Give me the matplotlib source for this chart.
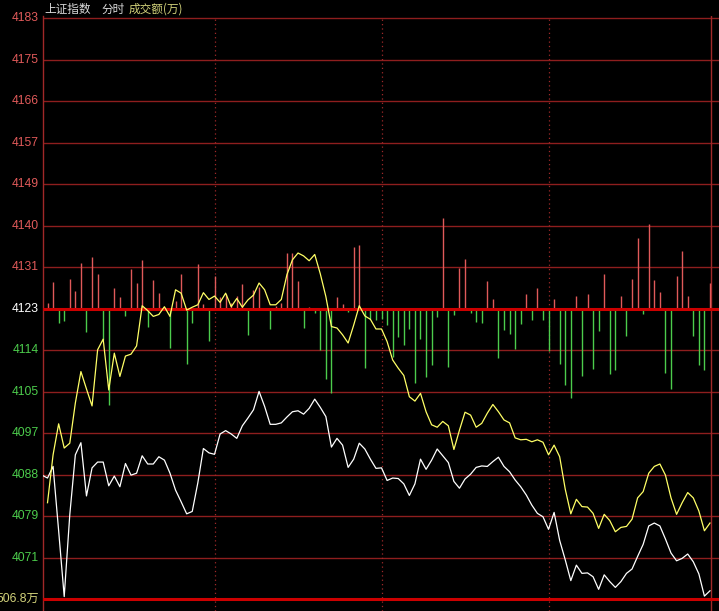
import numpy as np
import matplotlib
matplotlib.use('Agg')
import matplotlib.pyplot as plt
import matplotlib.transforms as mtransforms

plt.rcParams['font.family'] = ['Liberation Sans', 'Noto Sans CJK SC', 'DejaVu Sans']

# 昨收 / 纵轴刻度
base = 4123
tick_labels = ['4183', '4175', '4166', '4157', '4149', '4140', '4131',
               '4123', '4114', '4105', '4097', '4088', '4079', '4071']
bottom_label = '506.8万'

# 白线 (k = -1 .. 119)
white_line = [
    4088.6,
    4088.0, 4090.4, 4077.1, 4063.5, 4080.4, 4092.8, 4095.3, 4084.3, 4090.1, 4091.3,
    4091.3, 4086.4, 4088.4, 4086.2, 4091.0, 4088.6, 4089.0, 4092.6, 4090.9, 4090.9,
    4092.4, 4091.7, 4089.0, 4085.5, 4083.1, 4080.6, 4081.1, 4087.0, 4094.1, 4093.2,
    4092.9, 4097.1, 4097.8, 4097.1, 4096.2, 4098.8, 4100.4, 4102.1, 4105.9, 4102.8,
    4099.1, 4099.1, 4099.4, 4100.6, 4101.7, 4101.9, 4101.2, 4102.4, 4104.3, 4102.6,
    4100.7, 4094.4, 4096.2, 4094.8, 4090.2, 4091.9, 4095.2, 4094.0, 4091.9, 4090.0,
    4090.1, 4087.5, 4088.0, 4087.9, 4086.8, 4084.4, 4086.8, 4091.9, 4089.8, 4091.7,
    4094.0, 4092.6, 4091.2, 4087.3, 4085.9, 4087.8, 4088.8, 4090.2, 4090.5, 4090.4,
    4091.4, 4092.3, 4090.4, 4089.3, 4087.6, 4086.2, 4084.5, 4082.4, 4080.7, 4080.0,
    4077.4, 4080.9, 4075.1, 4071.1, 4066.8, 4070.0, 4068.3, 4068.4, 4067.6, 4065.0,
    4068.0, 4066.6, 4065.4, 4066.6, 4068.3, 4069.2, 4071.8, 4074.3, 4078.1, 4078.7,
    4078.1, 4075.4, 4072.5, 4070.9, 4071.4, 4072.3, 4070.7, 4068.2, 4063.6, 4064.7,
]

# 黄线 (k = 0 .. 119)
yellow_line = [
    4082.9, 4092.8, 4099.2, 4094.2, 4095.2, 4103.5, 4110.0, 4106.4, 4102.9, 4114.5,
    4116.7, 4106.2, 4113.8, 4109.0, 4113.2, 4113.6, 4115.3, 4123.6, 4122.6, 4121.4,
    4121.8, 4123.4, 4121.4, 4126.9, 4126.2, 4122.7, 4123.3, 4123.8, 4126.3, 4124.9,
    4125.6, 4124.3, 4126.2, 4123.4, 4125.1, 4123.3, 4124.8, 4125.8, 4128.3, 4126.9,
    4123.8, 4123.8, 4124.9, 4130.0, 4133.1, 4134.5, 4133.9, 4132.9, 4134.2, 4130.2,
    4125.5, 4119.3, 4119.0, 4117.6, 4115.9, 4119.6, 4123.6, 4121.5, 4120.8, 4118.8,
    4118.8, 4116.2, 4112.4, 4110.7, 4109.2, 4104.8, 4103.9, 4105.5, 4101.7, 4099.0,
    4098.5, 4099.7, 4098.8, 4093.9, 4097.9, 4101.6, 4101.0, 4098.5, 4099.3, 4101.4,
    4103.2, 4101.7, 4100.0, 4099.4, 4096.3, 4095.9, 4096.0, 4095.5, 4095.9, 4095.4,
    4092.8, 4094.8, 4092.4, 4085.7, 4080.6, 4083.6, 4082.1, 4082.0, 4080.7, 4077.6,
    4080.5, 4079.2, 4076.9, 4077.8, 4078.0, 4079.5, 4083.9, 4085.2, 4089.0, 4090.4,
    4090.9, 4088.6, 4083.9, 4080.5, 4082.9, 4085.0, 4083.9, 4081.2, 4077.1, 4078.7,
]

# 红绿柱 (相对昨收)
bars = [
    1.1, 5.6, -3.0, -2.5, 6.1, 3.7, 9.4, -4.8, 10.6, 7.2,
    -6.5, -20.0, 4.3, 2.4, -1.5, 8.1, 5.2, 10.1, -3.7, 5.9,
    3.2, 0.0, -8.1, 1.5, 7.2, -11.4, -3.0, 9.3, 1.0, -6.6,
    6.8, 2.4, 3.1, 1.1, 2.6, 5.0, -5.4, 3.9, 4.5, -0.2,
    -4.3, 0.5, 1.2, 11.4, 11.4, 5.8, -3.9, 0.4, -1.0, -8.6,
    -14.5, -17.4, 2.4, 1.0, -0.6, 12.8, 13.2, -12.3, -2.1, -2.3,
    -2.1, -3.3, -9.9, -5.9, -7.6, -4.2, -15.4, -6.3, -14.1, -11.6,
    -1.7, 18.7, -12.0, -1.4, 8.4, 10.3, -0.9, -2.8, -3.0, 5.8,
    1.9, -10.1, -4.5, -5.2, -8.4, -3.2, 3.0, -2.3, 4.3, -2.4,
    -8.8, 1.9, -11.5, -15.8, -18.5, 2.7, -14.0, 3.1, -12.5, -4.7,
    7.2, -13.4, -12.6, 2.7, -5.6, 6.1, 14.7, -1.1, 17.4, 6.0,
    3.4, -13.2, -16.7, 6.8, 12.0, 2.7, -5.7, -11.7, -12.6, 5.4,
]

W, H = 719, 611
fig = plt.figure(figsize=(W / 100, H / 100), dpi=100, facecolor='black')
ax = fig.add_axes([43 / W, 0, (W - 43) / W, (H - 16) / H])
ax.set_facecolor('black')

step = 60 / 7
top_val = base + 7 * step
px_per = 41.48 / step
ax.set_ylim(top_val - (H - 18.3) / px_per, top_val + (18.3 - 16) / px_per)
ax.set_xlim(-0.81, 120.62)

grid_red = '#8e1e1e'
for i in range(14):
    v = top_val - i * step
    if i == 7:
        continue
    ax.axhline(v, color=grid_red, lw=1.0, zorder=1)
ax.axhline(base, color='#cc0000', lw=2.2, zorder=3)
ax.axhline(base - 7 * step, color='#cc0000', lw=2.2, zorder=3)

for k in (30, 60, 90):
    ax.axvline(k, color='#a02828', lw=0.9, ls=(0, (1, 2.5)), zorder=1)
ax.axvline(119.19, color='#a02828', lw=1.0, zorder=1)

k_bar = np.arange(len(bars))
b = np.array(bars)
up = b > 0
dn = b < 0
ax.vlines(k_bar[up], base, base + b[up], color='#e05a5a', lw=1.0, zorder=2)
ax.vlines(k_bar[dn], base, base + b[dn], color='#4ccc4c', lw=1.0, zorder=2)

ax.plot(np.arange(-1, len(white_line) - 1), white_line, color='white', lw=0.9, zorder=4)
ax.plot(np.arange(len(yellow_line)), yellow_line, color='#ffff66', lw=0.9, zorder=4)

for s in ['top', 'right', 'bottom']:
    ax.spines[s].set_visible(False)
ax.spines['left'].set_color('#a02828')
ax.spines['left'].set_linewidth(1.0)
ax.set_xticks([])
ax.set_yticks([])

trans = mtransforms.blended_transform_factory(fig.transFigure, ax.transData)
for i, lab in enumerate(tick_labels):
    v = top_val - i * step
    if i < 7:
        c = '#e05a5a'
    elif i == 7:
        c = 'white'
    else:
        c = '#4ccc4c'
    ax.text(39 / W, v, lab, transform=trans, ha='right', va='center',
            color=c, fontsize=8.7, clip_on=False)
ax.text(39 / W, base - 7 * step, bottom_label, transform=trans, ha='right',
        va='center', color='#d2d27a', fontsize=8.7, clip_on=False)

ty = 1 - 9 / H
fig.text(44 / W, ty, '上证指数', color='#dcdcdc', fontsize=8.4, va='center',
         family=['Noto Sans CJK SC', 'DejaVu Sans'])
fig.text(101 / W, ty, '分时', color='#dcdcdc', fontsize=8.4, va='center',
         family=['Noto Sans CJK SC', 'DejaVu Sans'])
fig.text(129 / W, ty, '成交额(万)', color='#d2d27a', fontsize=8.4, va='center',
         family=['Noto Sans CJK SC', 'DejaVu Sans'])

fig.savefig('out.png', dpi=100, facecolor='black')
